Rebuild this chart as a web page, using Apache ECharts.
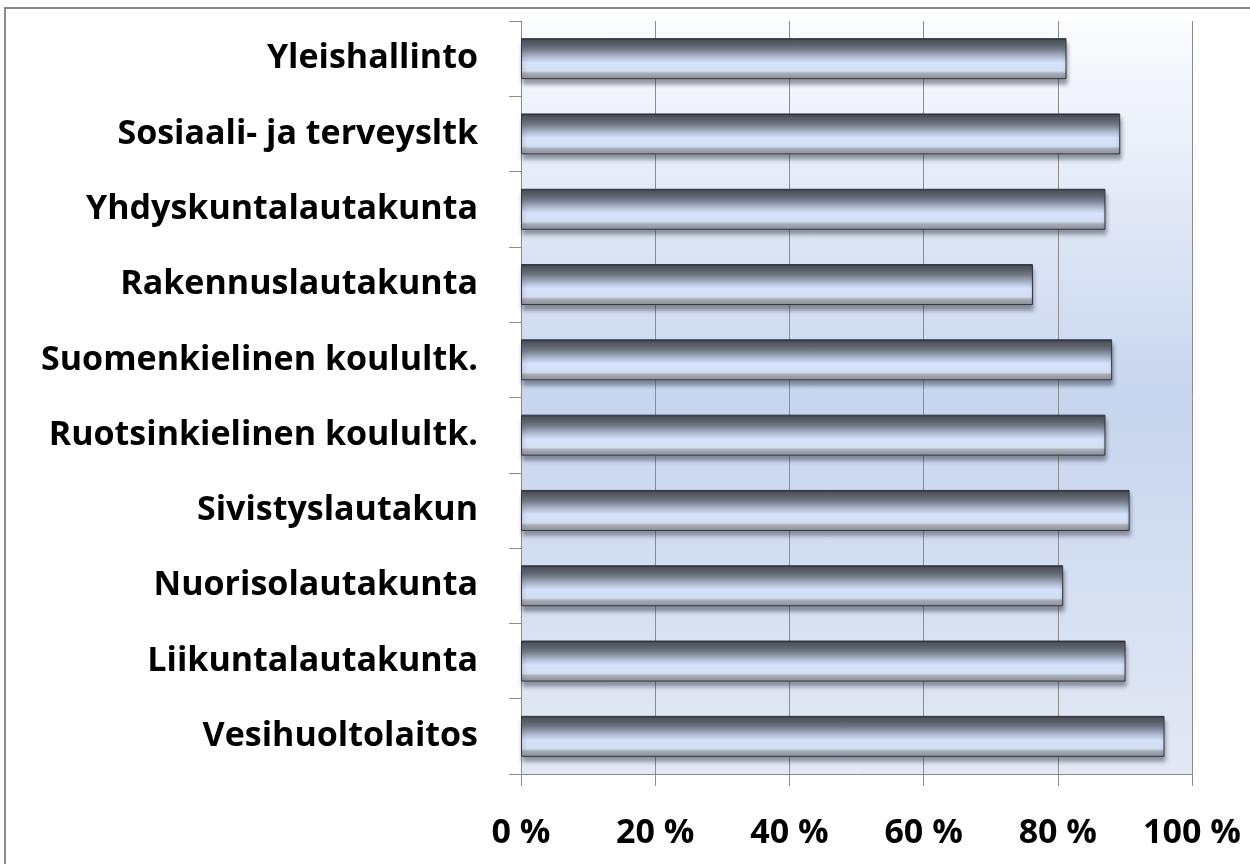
<!DOCTYPE html>
<html>
<head>
<meta charset="utf-8">
<script src="https://cdn.jsdelivr.net/npm/echarts@6/dist/echarts.min.js"></script>
<style>
  html, body { margin: 0; padding: 0; background: #fff; }
  #chart { width: 1250px; height: 864px; }
</style>
</head>
<body>
<div id="chart"></div>
<script>
// lautakunnat, ylhäältä alas
var categories = [
  'Yleishallinto',
  'Sosiaali- ja terveysltk',
  'Yhdyskuntalautakunta',
  'Rakennuslautakunta',
  'Suomenkielinen koulultk.',
  'Ruotsinkielinen koulultk.',
  'Sivistyslautakun',
  'Nuorisolautakunta',
  'Liikuntalautakunta',
  'Vesihuoltolaitos'
];
var values = [81.3, 89.3, 87.1, 76.3, 88.1, 87.1, 90.7, 80.8, 90.1, 95.9];
var xTicks = [0, 20, 40, 60, 80, 100];

var font = '"Open Sans", "Noto Sans", sans-serif';
var gridColor = '#8c8c8c';

var chart = echarts.init(document.getElementById('chart'));

//lasimainen palkin täyttö
var barFill = new echarts.graphic.LinearGradient(0, 0, 0, 1, [
  {offset: 0, color: '#1f2227'},
  {offset: 0.06, color: '#50565f'},
  {offset: 0.27, color: '#737a87'},
  {offset: 0.48, color: '#b5c2da'},
  {offset: 0.6, color: '#d5e3fc'},
  {offset: 0.8, color: '#d3deef'},
  {offset: 0.86, color: '#a7acb6'},
  {offset: 1, color: '#888d97'}
]);

chart.setOption({
  animation: false,
  graphic: [{
    type: 'rect',
    shape: {x: 5, y: 8, width: 1400, height: 1000},
    style: {fill: 'none', stroke: '#8a8a8a', lineWidth: 2},
    silent: true
  }],
  grid: {
    left: 521, right: 58, top: 21, bottom: 90,
    show: true,
    borderWidth: 0,
    backgroundColor: new echarts.graphic.LinearGradient(0, 0, 0, 1, [
      {offset: 0, color: '#fbfcfe'},
      {offset: 0.5, color: '#c7d5ee'},
      {offset: 1, color: '#e3e9f4'}
    ])
  },
  xAxis: {
    type: 'value',
    min: 0, max: 100, interval: 20,
    axisLine: {show: true, lineStyle: {color: gridColor}},
    axisTick: {show: true, length: 12, lineStyle: {color: gridColor}},
    splitLine: {show: true, lineStyle: {color: gridColor, width: 1}},
    axisLabel: {
      margin: 42,
      fontFamily: font, fontWeight: 'bold', fontSize: 34, color: '#000',
      formatter: function(v){ return xTicks.indexOf(v) >= 0 ? v + ' %' : ''; }
    }
  },
  yAxis: {
    type: 'category',
    inverse: true,
    data: categories,
    axisLine: {show: true, lineStyle: {color: gridColor}},
    axisTick: {show: true, length: 12, lineStyle: {color: gridColor}},
    axisLabel: {
      margin: 43,
      fontFamily: font, fontWeight: 'bold', fontSize: 34, color: '#000'
    }
  },
  series: [{
    type: 'bar',
    data: values,
    barWidth: 41,
    itemStyle: {
      color: barFill,
      borderColor: '#33363c',
      borderWidth: 1,
      shadowColor: 'rgba(40,45,60,0.45)',
      shadowBlur: 4,
      shadowOffsetY: 5,
      shadowOffsetX: 1
    }
  }]
});
</script>
</body>
</html>
